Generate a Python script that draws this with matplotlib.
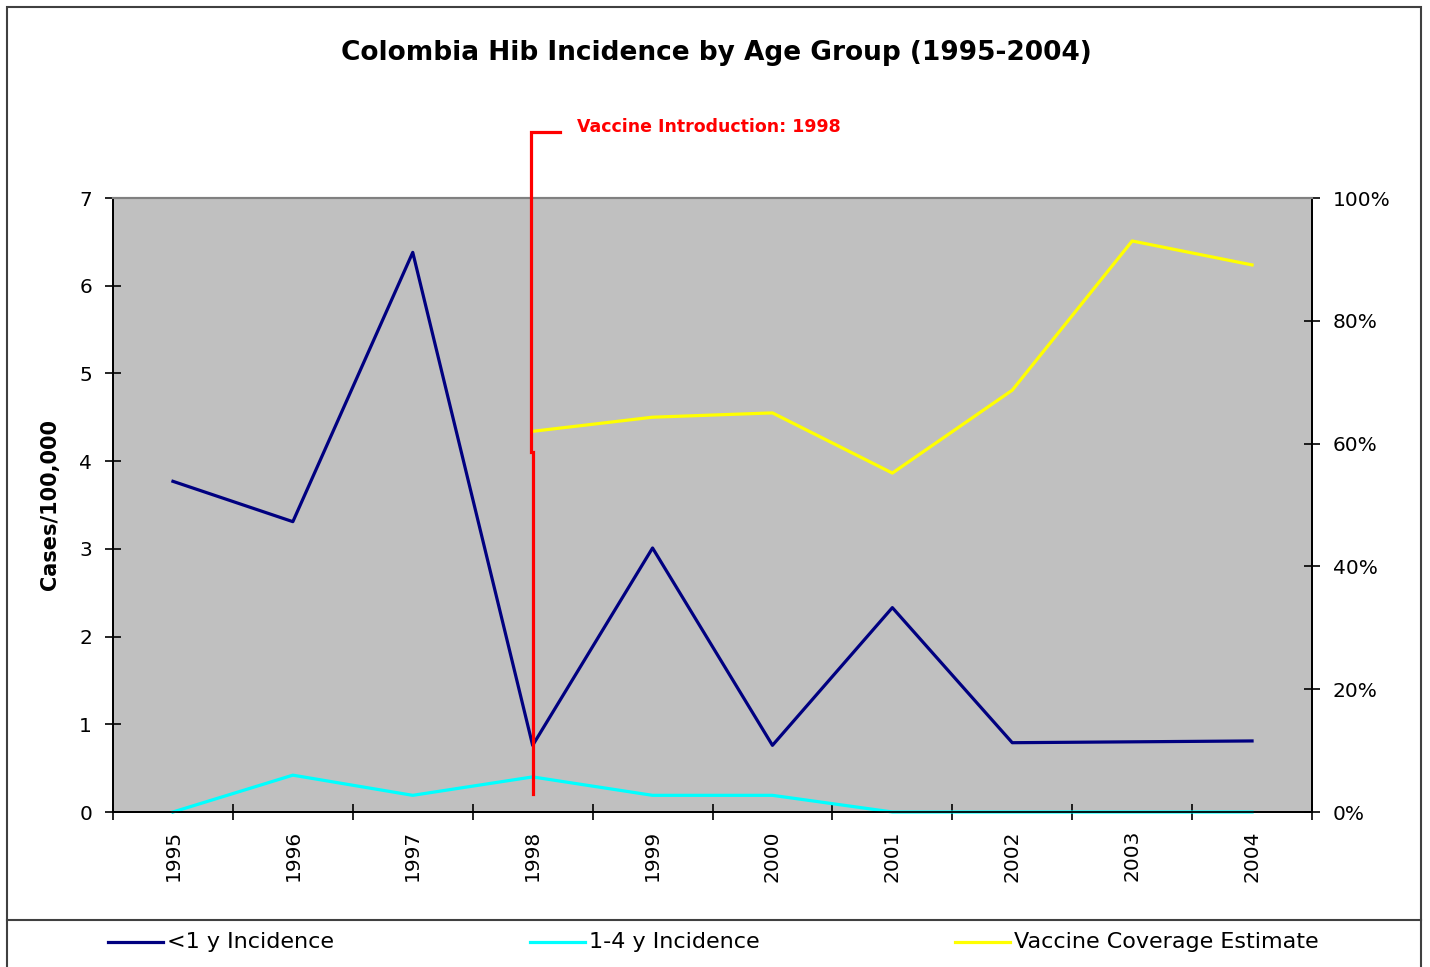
import matplotlib
matplotlib.use("Agg")
import matplotlib.pyplot as plt
import numpy as np
from matplotlib.lines import Line2D
from matplotlib.patches import Rectangle
from matplotlib.ticker import FixedLocator, PercentFormatter

plt.rcParams['font.family'] = ['DejaVu Sans']

years = [1995, 1996, 1997, 1998, 1999, 2000, 2001, 2002, 2003, 2004]
under1_incidence = [3.77, 3.31, 6.38, 0.76, 3.01, 0.76, 2.33, 0.79, 0.80, 0.81]
age1to4_incidence = [0.0, 0.42, 0.19, 0.40, 0.19, 0.19, 0.0, 0.0, 0.0, 0.0]
vaccine_coverage = [np.nan, np.nan, np.nan, 62, 64.3, 65, 55.2, 68.7, 93, 89.1]
series_names = ["<1 y Incidence", "1-4 y Incidence", "Vaccine Coverage Estimate"]
series_colors = ["#000080", "#00FFFF", "#FFFF00"]
intro_year = 1998

W, H = 1430, 967
fig = plt.figure(figsize=(W / 100, H / 100), dpi=100)
fig.patch.set_facecolor("white")

# outer chart frame and legend separator
fig.add_artist(Rectangle((7 / W, -0.01), 1414 / W, 1 - 7 / H + 0.01,
                         transform=fig.transFigure, fill=False,
                         edgecolor="#404040", lw=1.5))
fig.add_artist(Line2D([7 / W, 1421 / W], [1 - 920 / H, 1 - 920 / H],
                      transform=fig.transFigure, color="#404040", lw=1.5))

ax = fig.add_axes([113 / W, 1 - 812 / H, 1199 / W, 614 / H])
ax.set_facecolor("#C0C0C0")
x = np.arange(len(years))

ax.plot(x, under1_incidence, color=series_colors[0], lw=2.3, zorder=3)
ax.plot(x, age1to4_incidence, color=series_colors[1], lw=2.3, zorder=3,
        clip_on=False)

ax.set_xlim(-0.5, len(years) - 0.5)
ax.set_ylim(0, 7)
ax.set_yticks(range(0, 8))
ax.tick_params(axis="y", direction="inout", length=12, width=1.2,
               labelsize=14.5, pad=9, colors="black")
ax.set_xticks(x)
ax.set_xticklabels([str(y) for y in years], rotation=90, fontsize=14.5)
ax.tick_params(axis="x", which="major", length=0, pad=13)
ax.xaxis.set_minor_locator(FixedLocator(np.arange(-0.5, len(years) + 0.5, 1)))
ax.tick_params(axis="x", which="minor", direction="inout", length=12, width=1.2)

for side in ("left", "bottom", "right"):
    ax.spines[side].set_color("black")
    ax.spines[side].set_linewidth(1.3)
ax.spines["top"].set_color("#808080")
ax.spines["top"].set_linewidth(1.5)

ax.set_ylabel("Cases/100,000", fontsize=15, fontweight="bold")
ax.yaxis.set_label_coords(-0.044, 0.5)

ax2 = ax.twinx()
ax2.plot(x, vaccine_coverage, color=series_colors[2], lw=2.3, zorder=3)
ax2.set_ylim(0, 100)
ax2.set_yticks(range(0, 101, 20))
ax2.yaxis.set_major_formatter(PercentFormatter(decimals=0))
ax2.tick_params(axis="y", direction="inout", length=12, width=1.2,
                labelsize=14.5, pad=9, colors="black")
for side in ("left", "bottom", "right"):
    ax2.spines[side].set_color("black")
    ax2.spines[side].set_linewidth(1.3)
ax2.spines["top"].set_color("#808080")
ax2.spines["top"].set_linewidth(1.5)

# vaccine introduction marker (drawn in incidence units)
xi = years.index(intro_year)
ax2.plot([xi - 0.015, xi - 0.015, xi + 0.23], [4.1, 7.75, 7.75],
         color="red", lw=2.3, transform=ax.transData, clip_on=False, zorder=5,
         solid_joinstyle="miter")
ax2.plot([xi, xi], [0.2, 4.1], color="red", lw=2.3,
         transform=ax.transData, clip_on=False, zorder=5)
fig.text(577 / W, 1 - 127 / H, f"Vaccine Introduction: {intro_year}",
         color="red", fontsize=12.5, fontweight="bold", va="center", ha="left")

fig.text(716 / W, 1 - 53 / H,
         "Colombia Hib Incidence by Age Group (1995-2004)",
         fontsize=19, fontweight="bold", ha="center", va="center")

# legend row
legend_x = [108, 530, 955]
ly = 1 - 942 / H
for lx, name, col in zip(legend_x, series_names, series_colors):
    fig.add_artist(Line2D([lx / W, (lx + 55) / W], [ly, ly],
                          transform=fig.transFigure, color=col, lw=2.3))
    fig.text((lx + 59) / W, ly, name, fontsize=16, ha="left", va="center")

fig.savefig("out.png", dpi=100)
